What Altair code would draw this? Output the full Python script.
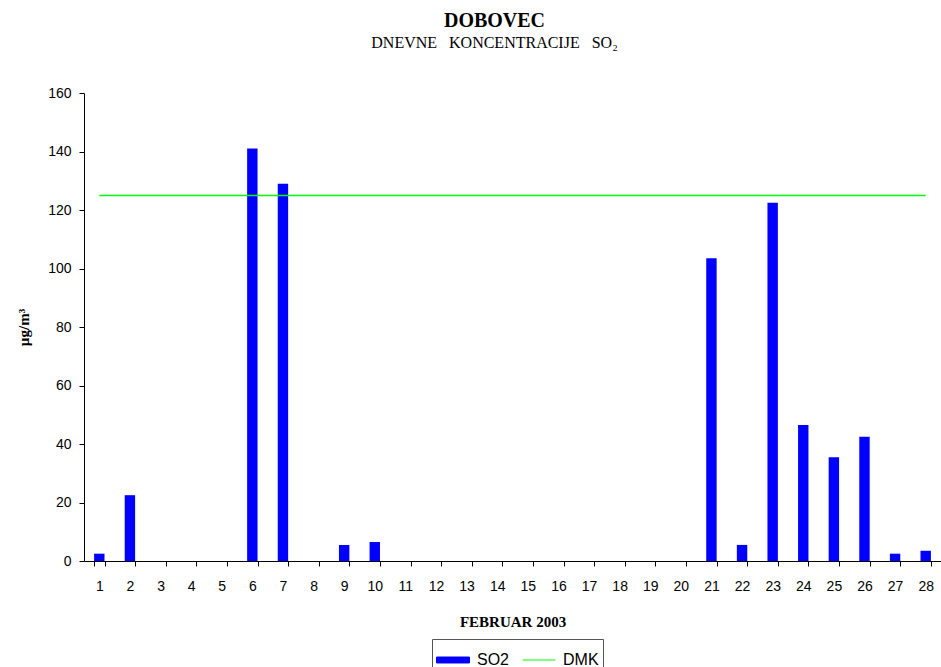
import altair as alt
import pandas as pd

# Daily SO2 concentrations at Dobovec, February 2003 (µg/m³); None = no measurement
days = [str(d) for d in range(1, 29)]
so2 = [2.5, 22.5, None, None, None, 141.0, 129.0, None, 5.5, 6.5,
       None, None, None, None, None, None, None, None, None, None,
       103.5, 5.5, 122.5, 46.5, 35.5, 42.5, 2.5, 3.5]
# Daily limit value (DMK)
dmk = [125] * len(days)

y_ticks = [0, 20, 40, 60, 80, 100, 120, 140, 160]

series_names = ["SO2", "DMK"]
series_colors = ["#0000ff", "#00ff00"]
# legend symbols: a wide bar for SO2, a thin line for DMK
series_symbols = ["M-1,-0.18H1V0.18H-1Z", "M-1,0H1"]

bars_df = pd.DataFrame({"day": days, "value": so2, "series": "SO2"})
line_df = pd.DataFrame({"day": days, "value": dmk, "series": "DMK"})

color_scale = alt.Scale(domain=series_names, range=series_colors)
shape_scale = alt.Scale(domain=series_names, range=series_symbols)

legend = alt.Legend(
    title=None,
    orient="none",
    direction="horizontal",
    legendX=348,
    legendY=546,
    strokeColor="#555555",
    padding=4,
    labelFont="Liberation Sans",
    labelFontSize=16,
    labelColor="black",
    labelOffset=7,
    columnPadding=10,
    symbolSize=1089,
    symbolStrokeWidth=1,
    symbolOpacity=1,
)

x_enc = alt.X(
    "day:O",
    sort=days,
    scale=alt.Scale(paddingInner=0.66, paddingOuter=0.33),
    axis=alt.Axis(
        title="FEBRUAR 2003",
        labelAngle=0,
        tickBand="extent",
        tickSize=5,
        labelPadding=13,
        titlePadding=21,
    ),
)

y_scale = alt.Scale(domain=[0, 160], nice=False, zero=True)
y_axis = alt.Axis(
    title="µg/m³",
    values=y_ticks,
    grid=False,
    tickSize=5,
    labelPadding=8,
    titlePadding=16,
)

bars = alt.Chart(bars_df).mark_bar(opacity=1).encode(
    x=x_enc,
    y=alt.Y("value:Q", scale=y_scale, axis=y_axis),
    color=alt.Color("series:N", scale=color_scale, legend=legend),
)

limit_line = alt.Chart(line_df).mark_line(strokeWidth=1.5).encode(
    x=alt.X("day:O", sort=days),
    y=alt.Y("value:Q", scale=y_scale),
    color=alt.Color("series:N", scale=color_scale, legend=legend),
)

# carries the symbol shapes for the shared legend; draws nothing itself
legend_keys = (
    alt.Chart(line_df)
    .transform_filter("false")
    .mark_point(filled=True)
    .encode(
        x=alt.X("day:O", sort=days),
        y=alt.Y("value:Q", scale=y_scale),
        color=alt.Color("series:N", scale=color_scale, legend=legend),
        shape=alt.Shape("series:N", scale=shape_scale, legend=legend),
    )
)

chart = (
    alt.layer(bars, limit_line, legend_keys)
    .properties(
        width=857,
        height=468,
        background="white",
        autosize=alt.AutoSizeParams(type="none"),
        padding={"left": 84, "top": 93, "right": 0, "bottom": 106},
        title=alt.TitleParams(
            text="DOBOVEC",
            subtitle="DNEVNE \u2002KONCENTRACIJE \u2002SO₂",
            font="Liberation Serif",
            fontSize=20,
            fontWeight="bold",
            color="black",
            subtitleFont="Liberation Serif",
            subtitleFontSize=16,
            subtitleColor="black",
            subtitlePadding=4,
            anchor="middle",
            dx=-18,
            offset=35,
        ),
    )
    .configure_view(stroke=None)
    .configure_axis(
        domainColor="black",
        tickColor="black",
        labelColor="black",
        labelFont="Liberation Sans",
        labelFontSize=14,
        titleFont="Liberation Serif",
        titleFontSize=15,
        titleFontWeight="bold",
        titleColor="black",
    )
)

chart.save("out.html", embed_options={"renderer": "svg", "actions": False})
